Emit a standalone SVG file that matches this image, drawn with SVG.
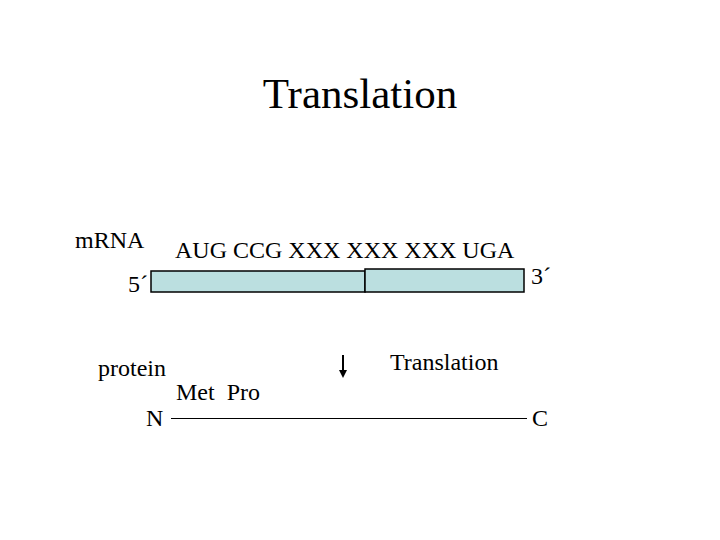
<svg xmlns="http://www.w3.org/2000/svg" width="720" height="540" viewBox="0 0 720 540">
<style>
text { font-family: "Liberation Serif", "Times New Roman", serif; fill: #000; }
.t { font-size: 24px; }
.box { fill: #bbdfe0; stroke: #000; stroke-width: 1.5; }
</style>
<defs>
<marker id="ah" markerWidth="4" markerHeight="4" refX="1" refY="2" orient="auto" markerUnits="strokeWidth">
<path d="M0,0 L4,2 L0,4 Z" fill="#000"/>
</marker>
</defs>
<rect width="720" height="540" fill="#fff"/>
<text x="360" y="108" font-size="43" text-anchor="middle">Translation</text>
<g id="mrna">
<text class="t" x="75" y="248">mRNA</text>
<text class="t" x="175" y="258">AUG CCG XXX XXX XXX UGA</text>
<text class="t" x="128" y="292">5´</text>
<text class="t" x="531" y="284">3´</text>
<rect class="box" x="151" y="271" width="214" height="21"/>
<rect class="box" x="365" y="269" width="159" height="23"/>
</g>
<g id="protein">
<text class="t" x="98" y="376">protein</text>
<text class="t" x="176" y="400" xml:space="preserve" style="white-space:pre">Met  Pro</text>
<text class="t" x="146" y="426">N</text>
<text class="t" x="532" y="426">C</text>
</g>
<g id="label">
<text class="t" x="390" y="370">Translation</text>
</g>
<g id="connectors">
<line x1="343" y1="355" x2="343" y2="372" stroke="#000" stroke-width="2" marker-end="url(#ah)"/>
<line x1="171" y1="418.5" x2="527" y2="418.5" stroke="#000" stroke-width="1"/>
</g>
</svg>
